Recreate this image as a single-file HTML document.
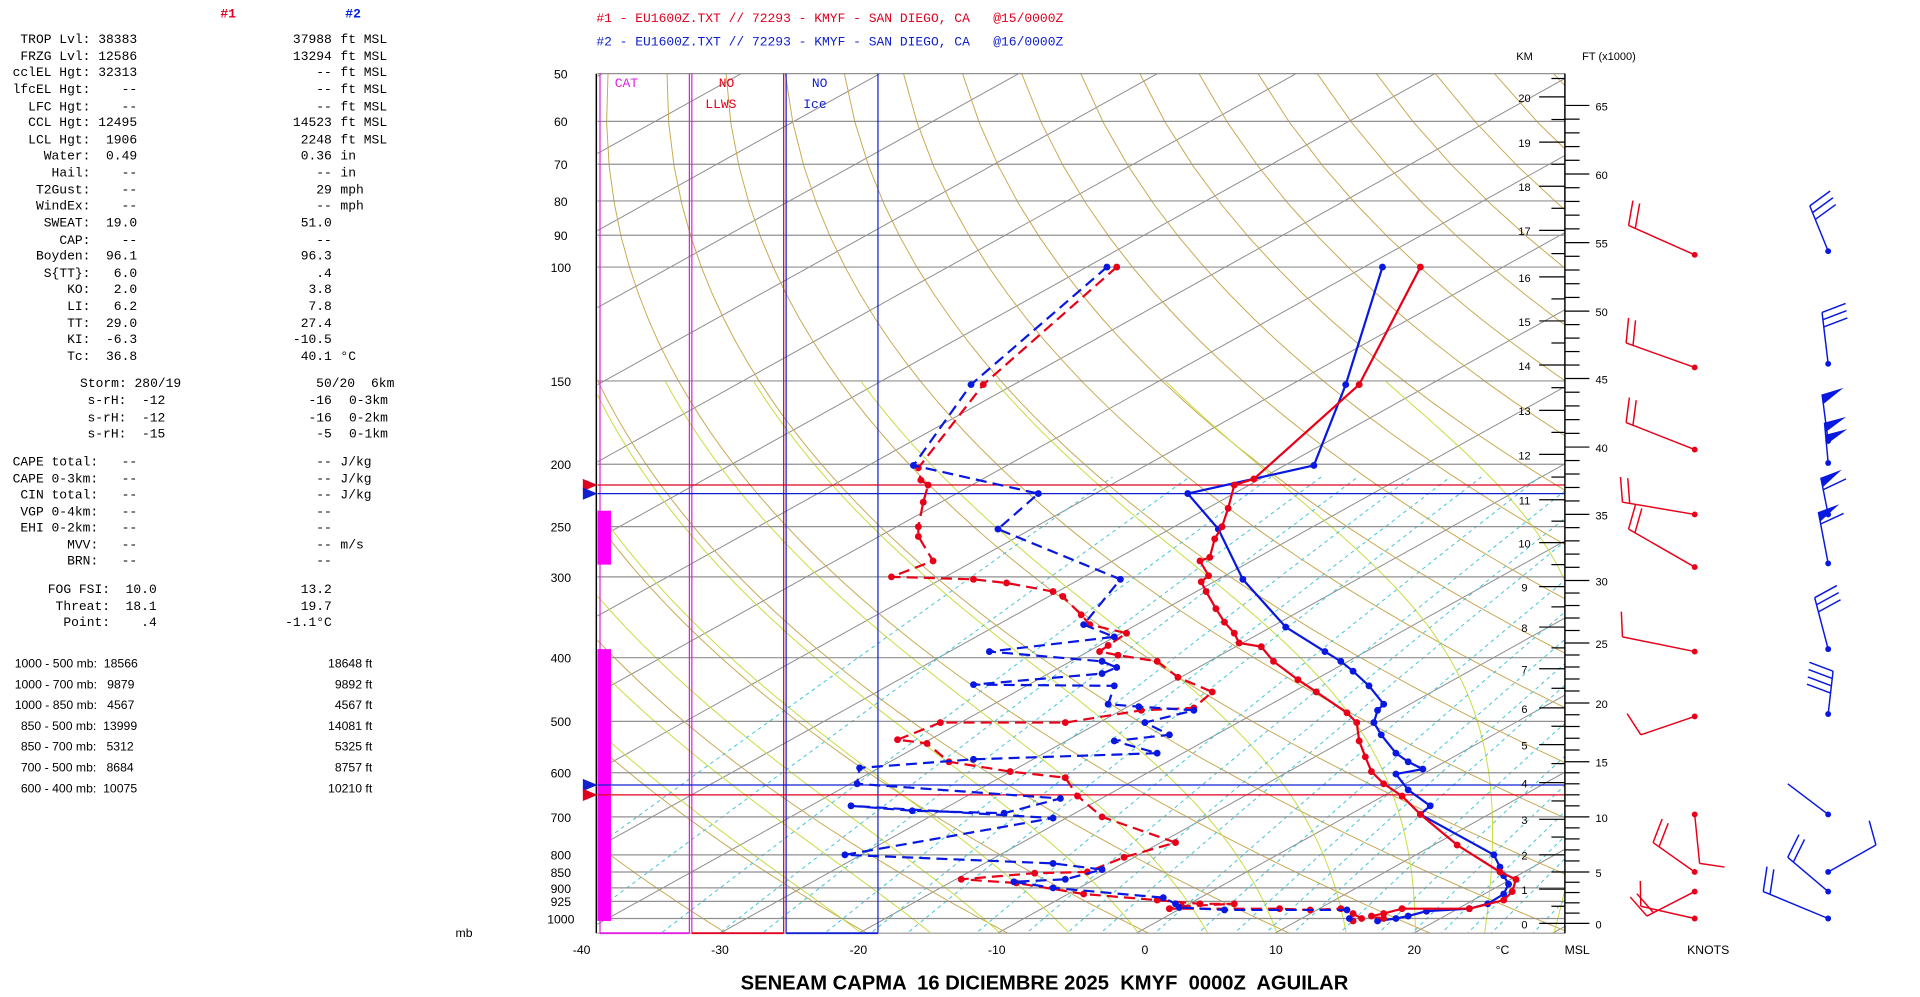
<!DOCTYPE html>
<html><head><meta charset="utf-8"><style>
html,body{margin:0;padding:0;background:#fff;overflow:hidden}
svg{display:block}
text{white-space:pre}
.m{font-family:"Liberation Mono",monospace;font-size:10.6px}
.a{font-family:"Liberation Sans",sans-serif;font-size:10px}
</style></head><body>
<svg id="s" width="1920" height="997" viewBox="0 0 1568 814" xmlns="http://www.w3.org/2000/svg">
<defs><clipPath id="cp"><rect x="488" y="60" width="790" height="702"/></clipPath></defs>
<g id="bg" clip-path="url(#cp)"></g>
<g id="fg"></g>
<g class="m" fill="#000">
<text x="180" y="14" fill="#e00020" font-weight="bold">#1</text>
<text x="282" y="14" fill="#0020e0" font-weight="bold">#2</text>
<g text-anchor="end">
<text x="112" y="35">TROP Lvl: 38383</text><text x="271" y="35">37988</text>
<text x="112" y="49">FRZG Lvl: 12586</text><text x="271" y="49">13294</text>
<text x="112" y="62">cclEL Hgt: 32313</text><text x="271" y="62">--</text>
<text x="112" y="76">lfcEL Hgt:    --</text><text x="271" y="76">--</text>
<text x="112" y="90">LFC Hgt:    --</text><text x="271" y="90">--</text>
<text x="112" y="103">CCL Hgt: 12495</text><text x="271" y="103">14523</text>
<text x="112" y="117">LCL Hgt:  1906</text><text x="271" y="117">2248</text>
<text x="112" y="130">Water:  0.49</text><text x="271" y="130">0.36</text>
<text x="112" y="144">Hail:    --</text><text x="271" y="144">--</text>
<text x="112" y="158">T2Gust:    --</text><text x="271" y="158">29</text>
<text x="112" y="171">WindEx:    --</text><text x="271" y="171">--</text>
<text x="112" y="185">SWEAT:  19.0</text><text x="271" y="185">51.0</text>
<text x="112" y="199">CAP:    --</text><text x="271" y="199">--</text>
<text x="112" y="212">Boyden:  96.1</text><text x="271" y="212">96.3</text>
<text x="112" y="226">S{TT}:   6.0</text><text x="271" y="226">.4</text>
<text x="112" y="239">KO:   2.0</text><text x="271" y="239">3.8</text>
<text x="112" y="253">LI:   6.2</text><text x="271" y="253">7.8</text>
<text x="112" y="267">TT:  29.0</text><text x="271" y="267">27.4</text>
<text x="112" y="280">KI:  -6.3</text><text x="271" y="280">-10.5</text>
<text x="112" y="294">Tc:  36.8</text><text x="271" y="294">40.1</text>
<text x="148" y="316">Storm: 280/19</text><text x="290" y="316">50/20</text>
<text x="135" y="330">s-rH:  -12</text><text x="271" y="330">-16</text>
<text x="135" y="344">s-rH:  -12</text><text x="271" y="344">-16</text>
<text x="135" y="357">s-rH:  -15</text><text x="271" y="357">-5</text>
<text x="112" y="380">CAPE total:   --</text><text x="271" y="380">--</text>
<text x="112" y="394">CAPE 0-3km:   --</text><text x="271" y="394">--</text>
<text x="112" y="407">CIN total:   --</text><text x="271" y="407">--</text>
<text x="112" y="421">VGP 0-4km:   --</text><text x="271" y="421">--</text>
<text x="112" y="434">EHI 0-2km:   --</text><text x="271" y="434">--</text>
<text x="112" y="448">MVV:   --</text><text x="271" y="448">--</text>
<text x="112" y="461">BRN:   --</text><text x="271" y="461">--</text>
<text x="128" y="484">FOG FSI:  10.0</text><text x="271" y="484">13.2</text>
<text x="128" y="498">Threat:  18.1</text><text x="271" y="498">19.7</text>
<text x="128" y="511">Point:    .4</text><text x="271" y="511">-1.1°C</text>
</g>
<g>
<text x="278" y="35">ft MSL</text><text x="278" y="49">ft MSL</text><text x="278" y="62">ft MSL</text><text x="278" y="76">ft MSL</text><text x="278" y="90">ft MSL</text><text x="278" y="103">ft MSL</text><text x="278" y="117">ft MSL</text>
<text x="278" y="130">in</text><text x="278" y="144">in</text><text x="278" y="158">mph</text><text x="278" y="171">mph</text><text x="278" y="294">°C</text>
<text x="303" y="316">6km</text><text x="285" y="330">0-3km</text><text x="285" y="344">0-2km</text><text x="285" y="357">0-1km</text>
<text x="278" y="380">J/kg</text><text x="278" y="394">J/kg</text><text x="278" y="407">J/kg</text><text x="278" y="448">m/s</text>
</g>
</g>
<g class="a" fill="#000">
<text x="12" y="545">1000 - 500 mb:  18566</text><text x="304" y="545" text-anchor="end">18648 ft</text>
<text x="12" y="562">1000 - 700 mb:   9879</text><text x="304" y="562" text-anchor="end">9892 ft</text>
<text x="12" y="579">1000 - 850 mb:   4567</text><text x="304" y="579" text-anchor="end">4567 ft</text>
<text x="17" y="596">850 - 500 mb:  13999</text><text x="304" y="596" text-anchor="end">14081 ft</text>
<text x="17" y="613">850 - 700 mb:   5312</text><text x="304" y="613" text-anchor="end">5325 ft</text>
<text x="17" y="630">700 - 500 mb:   8684</text><text x="304" y="630" text-anchor="end">8757 ft</text>
<text x="17" y="647">600 - 400 mb:  10075</text><text x="304" y="647" text-anchor="end">10210 ft</text>
<text x="372" y="765">mb</text>
</g>
<g class="m">
<text x="487" y="18" fill="#e00020">#1 - EU1600Z.TXT // 72293 - KMYF - SAN DIEGO, CA   @15/0000Z</text>
<text x="487" y="37" fill="#1020d0">#2 - EU1600Z.TXT // 72293 - KMYF - SAN DIEGO, CA   @16/0000Z</text>
<text x="502" y="71" fill="#e020e0">CAT</text>
<text x="587" y="71" fill="#e00020">NO</text>
<text x="576" y="88" fill="#e00020">LLWS</text>
<text x="663" y="71" fill="#1020d0">NO</text>
<text x="656" y="88" fill="#1020d0">Ice</text>
</g>
<g class="a" fill="#000" id="lbl"></g>
<text x="853" y="808" text-anchor="middle" font-family="Liberation Sans,sans-serif" font-weight="bold" font-size="16.5px" fill="#000">SENEAM CAPMA  16 DICIEMBRE 2025  KMYF  0000Z  AGUILAR</text>
</svg>
<script>
const NS="http://www.w3.org/2000/svg";
const bg=document.getElementById('bg'),fg=document.getElementById('fg'),lbl=document.getElementById('lbl');
function el(par,tag,at,txt){const e=document.createElementNS(NS,tag);for(const k in at)e.setAttribute(k,at[k]);if(txt!==undefined)e.textContent=txt;par.appendChild(e);return e;}
function yP(p){return 750-231*Math.log(1000/p);}
function X(T,p){return 928+11.33*T+1.8*(762-yP(p));}
function pl(par,pts,st){el(par,'polyline',Object.assign({points:pts.map(q=>q[0].toFixed(1)+','+q[1].toFixed(1)).join(' '),fill:'none'},st));}
for(let T=-160;T<=60;T+=10){pl(bg,[[X(T,1100),yP(1100)],[X(T,40),yP(40)]],{stroke:'#8c8c8c','stroke-width':0.8});}
for(let th=230;th<=500;th+=10){const pts=[];for(let p=1100;p>=40;p-=10){const T=th*Math.pow(p/1000,0.2857)-273.15;pts.push([X(T,p),yP(p)]);}pl(bg,pts,{stroke:'#c8a850','stroke-width':0.8});}
function es(Tc){return 6.112*Math.exp(17.67*Tc/(Tc+243.5));}
for(let t0=-20;t0<=40;t0+=5){let T=t0+273.15;const pts=[];for(let p=1050;p>=150;p-=2){pts.push([X(T-273.15,p),yP(p)]);const e=es(T-273.15),rs=0.622*e/(p-e),L=2.5e6;const d=(287*T+L*rs)/(p*(1004+L*L*rs*0.622/(287*T*T)));T-=d*2;}pl(bg,pts,{stroke:'#c8dc3c','stroke-width':0.8});}
[0.05,0.1,0.2,0.3,0.4,0.6,0.8,1,1.5,2,2.5,3,4,5,6,7,8,10,12,14,16,18,20,24,28,32,36,40,48,56].forEach(w=>{const pts=[];for(let p=1100;p>=210;p-=10){const e=w*p/(622+w);const l=Math.log(e/6.112);const Td=243.5*l/(17.67-l);pts.push([X(Td,p),yP(p)]);}pl(bg,pts,{stroke:'#40c4d4','stroke-width':0.8,'stroke-dasharray':'3,3'});});
const P=[[50,60],[60,99],[70,134],[80,164],[90,192],[100,218],[150,311],[200,379],[250,430],[300,471],[400,537],[500,589],[600,631],[700,667],[800,698],[850,712],[900,725],[925,736],[1000,750]];
P.forEach(a=>{el(fg,'line',{x1:488,x2:1278,y1:a[1],y2:a[1],stroke:'#909090','stroke-width':1});el(lbl,'text',{x:458,y:a[1]+4,'text-anchor':'middle'},String(a[0]));});
el(fg,'line',{x1:487,x2:487,y1:60,y2:762,stroke:'#000','stroke-width':1.2});
[[490,'#e020e0'],[563,'#e020e0'],[565,'#e020e0'],[640,'#e00020'],[642,'#1020d0'],[717,'#1020d0']].forEach(a=>el(fg,'line',{x1:a[0],x2:a[0],y1:60,y2:762,stroke:a[1],'stroke-width':1}));
el(fg,'line',{x1:488,x2:1278,y1:762,y2:762,stroke:'#909090'});
el(fg,'line',{x1:490,x2:563,y1:762,y2:762,stroke:'#e020e0','stroke-width':1.5});
el(fg,'line',{x1:565,x2:640,y1:762,y2:762,stroke:'#e00020','stroke-width':1.5});
el(fg,'line',{x1:642,x2:717,y1:762,y2:762,stroke:'#1020d0','stroke-width':1.5});
el(fg,'rect',{x:488,y:417,width:11,height:44,fill:'#ff00ff'});
el(fg,'rect',{x:488,y:530,width:11,height:222,fill:'#ff00ff'});
[[396,'#e00020'],[403,'#1020d0'],[641,'#1020d0'],[649,'#e00020']].forEach(a=>{el(fg,'line',{x1:488,x2:1278,y1:a[0],y2:a[0],stroke:a[1],'stroke-width':1});el(fg,'polygon',{points:`476,${a[0]-5} 488,${a[0]} 476,${a[0]+5}`,fill:a[1]});});
[[-40,475],[-30,588],[-20,701],[-10,814],[0,935],[10,1042],[20,1155]].forEach(a=>el(lbl,'text',{x:a[1],y:779,'text-anchor':'middle'},String(a[0])));
el(lbl,'text',{x:1227,y:779,'text-anchor':'middle'},'°C');
el(lbl,'text',{x:1288,y:779,'text-anchor':'middle'},'MSL');
el(lbl,'text',{x:1395,y:779,'text-anchor':'middle'},'KNOTS');
el(lbl,'text',{x:1245,y:49,'text-anchor':'middle','font-size':'9px'},'KM');
el(lbl,'text',{x:1314,y:49,'text-anchor':'middle','font-size':'9px'},'FT (x1000)');
el(fg,'line',{x1:1278,x2:1278,y1:60,y2:762,stroke:'#000','stroke-width':1.2});
const KM=[79,116,152,188,226,262,298,335,371,408,443,479,512,546,578,608,639,669,698,726,754];
KM.forEach((y,i)=>{const k=20-i;el(fg,'line',{x1:1257,x2:1278,y1:y,y2:y,stroke:'#000'});el(lbl,'text',{x:1245,y:y+4,'text-anchor':'middle','font-size':'9px'},String(k));});
const FT=[[65,86],[60,142],[55,198],[50,254],[45,309],[40,365],[35,420],[30,474],[25,525],[20,574],[15,622],[10,667],[5,712],[0,754]];
FT.forEach((a,i)=>{el(fg,'line',{x1:1278,x2:1298,y1:a[1],y2:a[1],stroke:'#000'});el(lbl,'text',{x:1303,y:a[1]+4,'font-size':'9px'},String(a[0]));
 if(i<FT.length-1){const n=FT[i+1][1];for(let j=1;j<5;j++){const y=a[1]+(n-a[1])*j/5;el(fg,'line',{x1:1278,x2:1290,y1:y,y2:y,stroke:'#000'});}}});
for(let i=0;i<KM.length-1;i++){const y=(KM[i]+KM[i+1])/2;el(fg,'line',{x1:1267,x2:1278,y1:y,y2:y,stroke:'#000'});}
el(fg,'line',{x1:1267,x2:1278,y1:64,y2:64,stroke:'#000'});
function series(pts,col,dash){pl(fg,pts,Object.assign({stroke:col,'stroke-width':1.8},dash?{'stroke-dasharray':'9,5'}:{}));pts.forEach(q=>el(fg,'circle',{cx:q[0],cy:q[1],r:2.8,fill:col}));}
const R='#e80018',B='#0818e0';
series([[1129,218],[1099,314],[1073,380],[970,403],[995,432],[1015,473],[1050,512],[1082,532],[1095,540],[1105,548],[1118,560],[1130,575],[1125,580],[1122,590],[1128,600],[1140,615],[1150,622],[1162,628],[1140,632],[1150,645],[1168,658],[1160,665],[1220,698],[1225,708],[1228,715],[1232,722],[1228,730],[1215,738],[1200,742],[1165,744],[1150,748],[1140,750],[1125,752]],B,false);
series([[1160,218],[1110,314],[1024,391],[1008,396],[1003,415],[998,430],[992,440],[988,455],[980,458],[987,470],[981,475],[985,483],[993,497],[1000,508],[1008,517],[1012,525],[1030,528],[1040,540],[1060,555],[1075,565],[1100,582],[1108,590],[1110,605],[1115,618],[1120,630],[1130,640],[1145,650],[1160,665],[1190,690],[1225,712],[1238,718],[1235,728],[1228,735],[1200,742],[1145,742],[1130,746],[1120,748],[1130,750]],R,false);
series([[912,218],[803,314],[750,382],[752,392],[758,396],[754,410],[750,430],[750,438],[762,458],[728,471],[795,473],[822,476],[860,483],[868,487],[883,502],[890,510],[920,517],[905,527],[898,532],[913,535],[945,540],[962,553],[990,565],[975,578],[932,580],[870,590],[768,590],[733,604],[757,607],[775,622],[825,630],[870,635],[880,650],[900,667],[960,688],[918,700],[888,712],[845,713],[785,718],[830,721],[885,730],[945,735],[980,738],[1008,738],[965,740],[955,742],[1045,742],[1070,743],[1095,742],[1105,746],[1112,750],[1105,752]],R,true);
series([[904,218],[793,314],[746,380],[848,403],[815,432],[915,473],[885,510],[910,520],[808,532],[900,540],[912,545],[900,550],[795,559],[910,560],[905,575],[930,577],[975,580],[935,590],[955,600],[910,605],[945,615],[795,620],[702,627],[700,640],[866,652],[820,664],[745,662],[695,658],[860,668],[690,698],[860,705],[900,710],[870,718],[828,720],[860,725],[950,733],[960,738],[963,741],[1000,743],[1100,743],[1102,750]],B,true);
function barb(x,y,ex,ey,n,pen,col){el(fg,'line',{x1:x,y1:y,x2:ex,y2:ey,stroke:col,'stroke-width':1.2});el(fg,'circle',{cx:x,cy:y,r:2.4,fill:col});
 const dx=ex-x,dy=ey-y,L=Math.hypot(dx,dy),ux=dx/L,uy=dy/L;let px=-uy,py=ux;if(py>0||(Math.abs(py)<0.2&&px<0)){px=-px;py=-py;}
 let off=0;for(let i=0;i<pen;i++){const bx=ex-ux*off,by=ey-uy*off;const cx=ex-ux*(off+8),cy=ey-uy*(off+8);el(fg,'polygon',{points:`${bx},${by} ${bx+px*18+ux*3},${by+py*18+uy*3} ${cx},${cy}`,fill:col});off+=10;}
 for(let i=0;i<n;i++){const bx=ex-ux*off,by=ey-uy*off;el(fg,'line',{x1:bx,y1:by,x2:bx+px*20+ux*5,y2:by+py*20+uy*5,stroke:col,'stroke-width':1.2});off+=6;}}
barb(1384,208,1330,184,2,0,R);barb(1384,300,1328,280,2,0,R);barb(1384,367,1328,345,2,0,R);barb(1384,420,1325,410,2,0,R);barb(1384,463,1330,432,2,0,R);barb(1384,532,1325,520,1,0,R);barb(1384,585,1340,600,1,0,R);
barb(1384,665,1388,705,1,0,R);barb(1384,712,1350,688,2,0,R);barb(1384,728,1345,748,2,0,R);barb(1384,750,1340,740,1,0,R);
barb(1493,205,1478,168,3,0,B);barb(1493,297,1488,255,3,0,B);barb(1493,360,1488,322,0,1,B);barb(1493,378,1490,345,0,2,B);barb(1493,420,1487,390,1,1,B);barb(1493,460,1485,418,1,1,B);barb(1493,530,1482,488,3,0,B);barb(1493,583,1497,548,4,0,B);
barb(1493,665,1460,640,0,0,B);barb(1493,712,1532,690,1,0,B);barb(1493,728,1460,700,2,0,B);barb(1493,750,1440,728,2,0,B);
</script>
</body></html>
